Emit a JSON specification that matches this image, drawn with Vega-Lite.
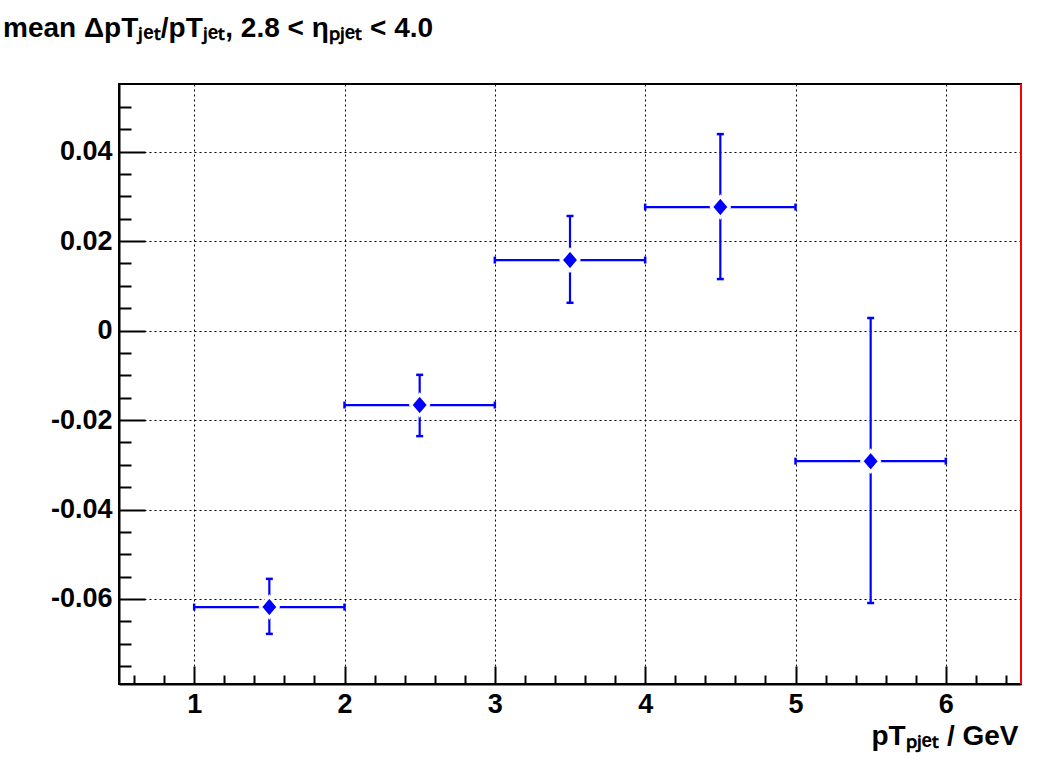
{
  "$schema": "https://vega.github.io/schema/vega-lite/v6.json",
  "width": 902,
  "height": 600,
  "autosize": {"type": "none"},
  "padding": {"left": 119, "top": 84, "right": 20, "bottom": 97},
  "background": "white",
  "title": {
    "text": "mean ΔpTⱼₑₜ/pTⱼₑₜ, 2.8 < ηₚⱼₑₜ < 4.0",
    "anchor": "start",
    "frame": "group",
    "dx": -116,
    "offset": 18,
    "baseline": "alphabetic",
    "fontSize": 28,
    "fontWeight": "bold",
    "font": "Liberation Sans",
    "color": "black"
  },
  "config": {
    "view": {"stroke": "black", "strokeWidth": 2},
    "font": "Liberation Sans"
  },
  "data": {
    "values": [
      {"x": 1.5, "xlo": 1, "xhi": 2, "y": -0.0618, "ylo": -0.0678, "yhi": -0.0555},
      {"x": 2.5, "xlo": 2, "xhi": 3, "y": -0.01665, "ylo": -0.0236, "yhi": -0.0099},
      {"x": 3.5, "xlo": 3, "xhi": 4, "y": 0.01575, "ylo": 0.0062, "yhi": 0.0256},
      {"x": 4.5, "xlo": 4, "xhi": 5, "y": 0.0276, "ylo": 0.0115, "yhi": 0.0439},
      {"x": 5.5, "xlo": 5, "xhi": 6, "y": -0.0292, "ylo": -0.0609, "yhi": 0.0028}
    ]
  },
  "layer": [
    {
      "mark": {"type": "rule", "color": "#0000ff", "strokeWidth": 2.2},
      "encoding": {
        "x": {
          "field": "xlo",
          "type": "quantitative",
          "scale": {"domain": [0.5, 6.5], "nice": false, "zero": false},
          "axis": {
            "values": [0.6, 0.8, 1, 1.2, 1.4, 1.6, 1.8, 2, 2.2, 2.4, 2.6, 2.8, 3, 3.2, 3.4, 3.6, 3.8, 4, 4.2, 4.4, 4.6, 4.8, 5, 5.2, 5.4, 5.6, 5.8, 6, 6.2, 6.4],
            "tickCount": 500,
            "labelExpr": "abs(datum.value - round(datum.value)) < 0.001 ? format(datum.value, 'd') : ''",
            "labelOverlap": false,
            "labelBound": false,
            "labelFlush": false,
            "labelFont": "Liberation Sans",
            "labelFontSize": 27,
            "labelFontWeight": "bold",
            "labelColor": "black",
            "labelPadding": 25,
            "tickSize": {"condition": {"test": "abs(datum.value - round(datum.value)) < 0.001", "value": -18}, "value": -9},
            "tickColor": "black",
            "tickWidth": 2,
            "domainColor": "black",
            "domainWidth": 2,
            "grid": true,
            "gridColor": "black",
            "gridDash": [2, 3],
            "gridWidth": 1,
            "gridOpacity": {"condition": {"test": "abs(datum.value - round(datum.value)) < 0.001", "value": 1}, "value": 0},
            "title": "pTₚⱼₑₜ / GeV",
            "titleFont": "Liberation Sans",
            "titleFontSize": 28,
            "titleFontWeight": "bold",
            "titleColor": "black",
            "titleAlign": "right",
            "titleAnchor": "end",
            "titleBaseline": "alphabetic",
            "titleX": 899,
            "titleY": 60
          }
        },
        "x2": {"field": "xhi"},
        "y": {
          "field": "y",
          "type": "quantitative",
          "scale": {"domain": [-0.079, 0.0551], "nice": false, "zero": false},
          "axis": {
            "values": [-0.075, -0.07, -0.065, -0.06, -0.055, -0.05, -0.045, -0.04, -0.035, -0.03, -0.025, -0.02, -0.015, -0.01, -0.005, 0, 0.005, 0.01, 0.015, 0.02, 0.025, 0.03, 0.035, 0.04, 0.045, 0.05],
            "tickCount": 500,
            "labelExpr": "abs(datum.value * 50 - round(datum.value * 50)) < 0.001 ? (abs(datum.value) < 0.0001 ? '0' : replace(format(datum.value, '.2f'), '\u2212', '-')) : ''",
            "labelOverlap": false,
            "labelBound": false,
            "labelFlush": false,
            "labelFont": "Liberation Sans",
            "labelFontSize": 27,
            "labelFontWeight": "bold",
            "labelColor": "black",
            "labelPadding": 33,
            "tickSize": {"condition": {"test": "abs(datum.value * 50 - round(datum.value * 50)) < 0.001", "value": -26}, "value": -12},
            "tickColor": "black",
            "tickWidth": 2,
            "domainColor": "black",
            "domainWidth": 2,
            "grid": true,
            "gridColor": "black",
            "gridDash": [2, 3],
            "gridWidth": 1,
            "gridOpacity": {"condition": {"test": "abs(datum.value * 50 - round(datum.value * 50)) < 0.001", "value": 1}, "value": 0},
            "title": null
          }
        }
      }
    },
    {
      "mark": {"type": "rule", "color": "#0000ff", "strokeWidth": 2.2},
      "encoding": {
        "x": {"field": "x", "type": "quantitative"},
        "y": {"field": "ylo", "type": "quantitative"},
        "y2": {"field": "yhi"}
      }
    },
    {
      "mark": {"type": "point", "shape": "M-1,0L1,0", "size": 49, "filled": false, "stroke": "#0000ff", "strokeWidth": 2.5, "opacity": 1},
      "encoding": {
        "x": {"field": "x", "type": "quantitative"},
        "y": {"field": "ylo", "type": "quantitative"}
      }
    },
    {
      "mark": {"type": "point", "shape": "M-1,0L1,0", "size": 49, "filled": false, "stroke": "#0000ff", "strokeWidth": 2.5, "opacity": 1},
      "encoding": {
        "x": {"field": "x", "type": "quantitative"},
        "y": {"field": "yhi", "type": "quantitative"}
      }
    },
    {
      "mark": {"type": "point", "shape": "M0,-1L0,1", "size": 49, "filled": false, "stroke": "#0000ff", "strokeWidth": 2.5, "opacity": 1},
      "encoding": {
        "x": {"field": "xlo", "type": "quantitative"},
        "y": {"field": "y", "type": "quantitative"}
      }
    },
    {
      "mark": {"type": "point", "shape": "M0,-1L0,1", "size": 49, "filled": false, "stroke": "#0000ff", "strokeWidth": 2.5, "opacity": 1},
      "encoding": {
        "x": {"field": "xhi", "type": "quantitative"},
        "y": {"field": "y", "type": "quantitative"}
      }
    },
    {
      "mark": {"type": "point", "shape": "M0,-1L0.85,0L0,1L-0.85,0Z", "size": 441, "filled": true, "fill": "#0000ff", "stroke": "white", "strokeWidth": 3, "opacity": 1},
      "encoding": {
        "x": {"field": "x", "type": "quantitative"},
        "y": {"field": "y", "type": "quantitative"}
      }
    },
    {
      "mark": {"type": "rule", "color": "#ff0000", "strokeWidth": 1.5},
      "encoding": {
        "x": {"datum": 6.5}
      }
    }
  ]
}
